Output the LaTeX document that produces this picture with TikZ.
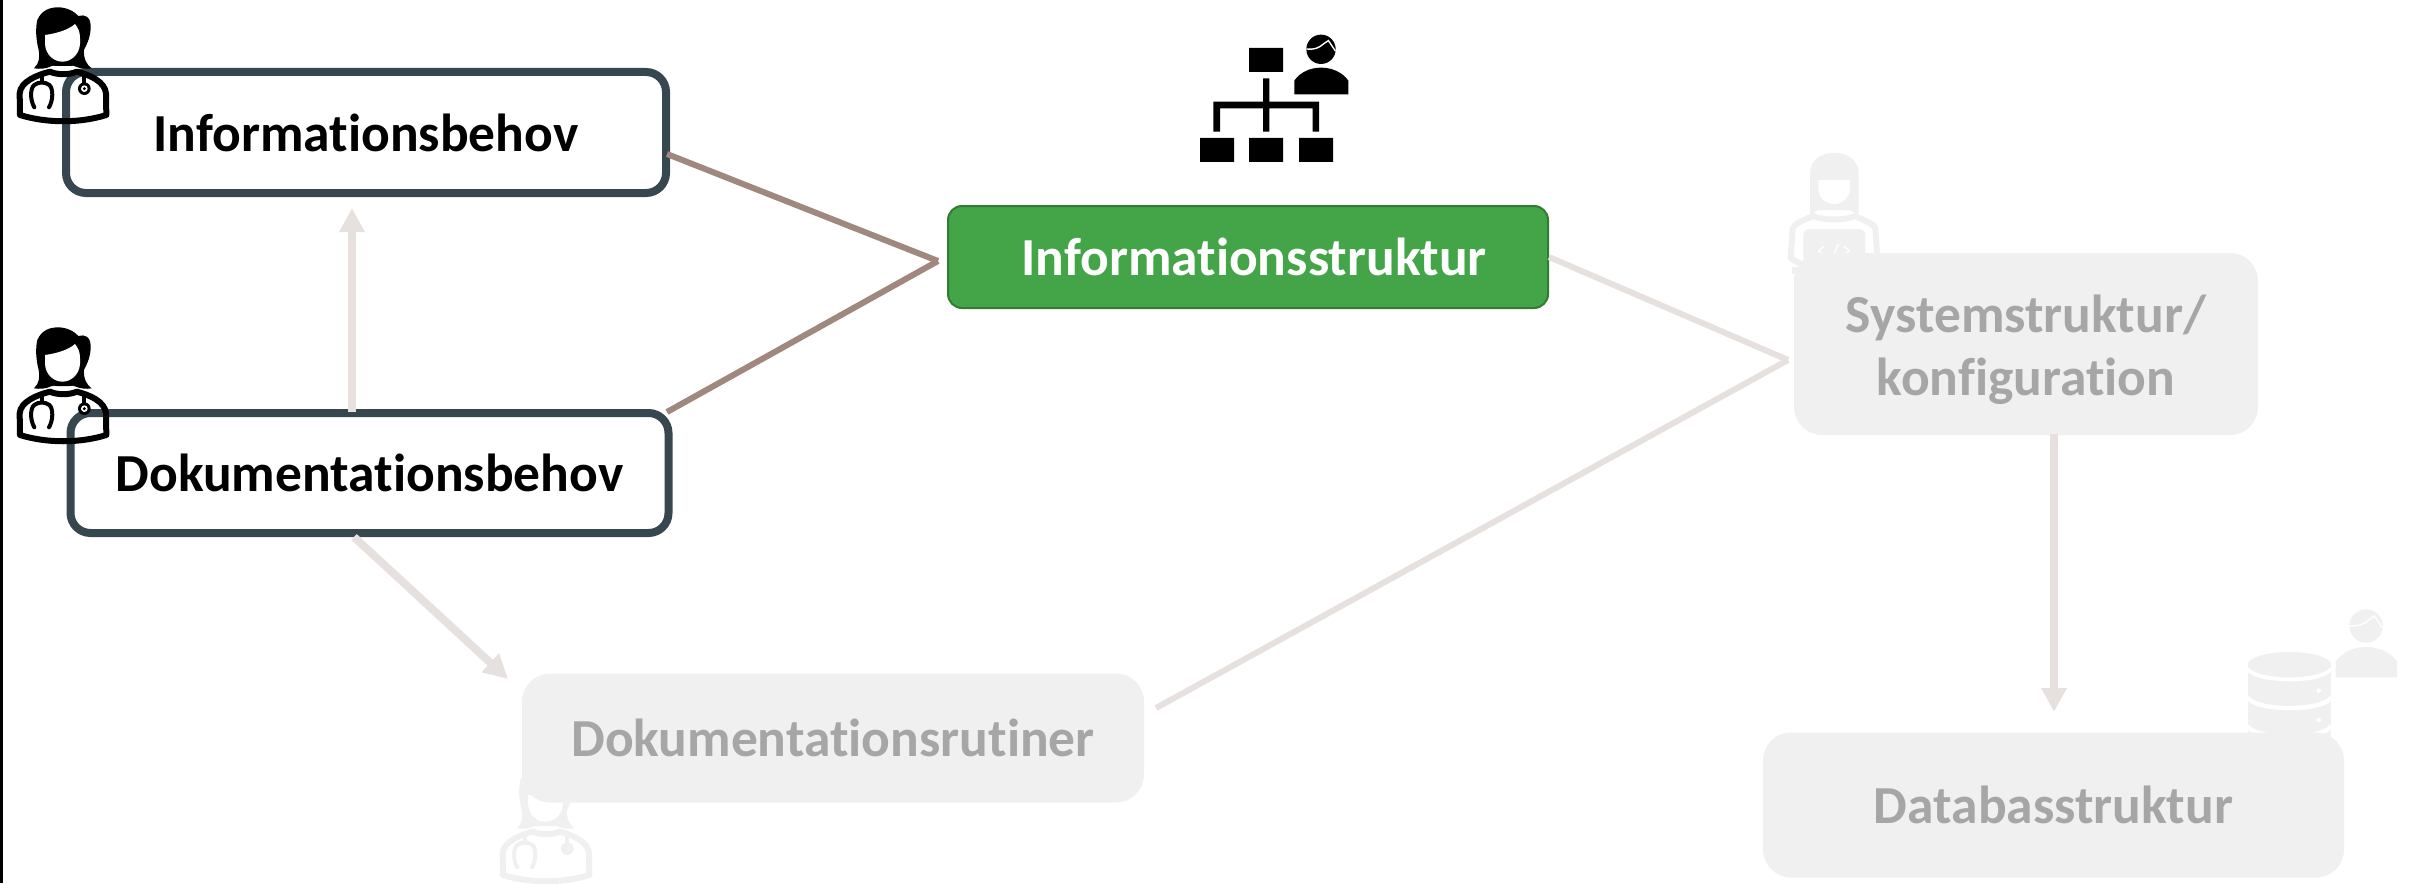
\documentclass[tikz,border=0pt]{standalone}
\usepackage{fontspec}
\setmainfont[Ligatures=NoCommon]{Carlito}
\usetikzlibrary{arrows.meta}
\definecolor{boxline}{HTML}{37474F}
\definecolor{greenfill}{HTML}{43A547}
\definecolor{greenline}{HTML}{2E7D32}
\definecolor{linkdark}{HTML}{A1887F}
\definecolor{linklight}{HTML}{E6E1DF}
\definecolor{faded}{HTML}{F0F0F0}
\definecolor{fadedtext}{HTML}{A6A6A6}
\newcommand\doctoricon[4]{%
\begin{scope}[shift={(#1,#2)},scale=1/3]
\fill[#3] (102,205) .. controls (118,190) and (120,170) .. (116,150) .. controls (108,120) and (106,85) .. (112,60)
 .. controls (125,30) and (150,22) .. (175,22) .. controls (200,22) and (225,35) .. (235,48)
 .. controls (255,42) and (272,50) .. (272,80) .. controls (272,110) and (262,130) .. (252,150)
 .. controls (250,175) and (260,195) .. (275,205) .. controls (260,208) and (240,206) .. (222,198)
 -- (155,198) .. controls (140,206) and (120,208) .. (102,205) -- cycle;
\fill[white] (135,105) .. controls (170,100) and (205,90) .. (225,72) .. controls (235,85) and (240,95) .. (240,115)
 -- (240,132) .. controls (238,165) and (212,185) .. (187,185) .. controls (162,185) and (137,165) .. (135,132) -- cycle;
\fill[white] (160,197) .. controls (180,204) and (200,204) .. (220,197) -- (216,212) .. controls (200,216) and (180,216) .. (164,212) -- cycle;
\draw[#3,line width=3pt,line join=round] (60,345) -- (59,280) .. controls (62,245) and (110,225) .. (150,215)
 .. controls (170,225) and (210,225) .. (230,215) .. controls (270,225) and (315,245) .. (318,280) -- (319,345)
 .. controls (240,370) and (140,370) .. (60,345) -- cycle;
\draw[#3,line width=2pt,line cap=round] (103,322) .. controls (90,300) and (90,265) .. (103,255) .. controls (115,245) and (135,245) .. (148,255)
 .. controls (160,265) and (160,300) .. (147,322);
\draw[#3,line width=2pt] (125,225) -- (125,248);
\draw[#3,line width=2pt] (253,225) -- (253,255);
\fill[#3] (253,266) circle (19);
\fill[#4] (253,266) circle (10);
\fill[#3] (253,266) circle (5);
\end{scope}}
\newcommand\personicon[4]{%
\begin{scope}[shift={(#1,#2)},scale=#3/3]
\fill[#4] (0,0) circle (44);
\draw[white,line width=0.7pt] (-44,-1) .. controls (-5,4) and (5,-18) .. (22,-26) .. controls (30,-15) and (36,-5) .. (43,5);
\fill[#4] (-80,135) -- (-80,94) .. controls (-45,42) and (45,42) .. (82,94) -- (82,135) -- cycle;
\end{scope}}
\tikzset{
 x=0.5pt,y=-0.5pt,
 basebox/.style={rectangle,font=\fontsize{26.75}{31.5}\selectfont\bfseries,align=center,inner sep=0pt},
 outlinebox/.style={basebox,draw=boxline,line width=4pt,fill=white,rounded corners=10pt,text=black},
 greenbox/.style={basebox,draw=greenline,line width=1pt,fill=greenfill,rounded corners=7pt,text=white},
 fadedbox/.style={basebox,fill=faded,rounded corners=14pt,text=fadedtext},
 darklink/.style={draw=linkdark,line width=3pt},
 lightlink/.style={draw=linklight,line width=3pt},
 lightarrow/.style={draw=linklight,line width=4pt,-{Triangle[length=12pt,width=12pt]}},
}
\begin{document}
\begin{tikzpicture}
\useasboundingbox (0,0) rectangle (2412,883);
\fill[black] (0,0) rectangle (2.5,883);
% faded icons below their boxes
\doctoricon{483}{760}{faded}{faded}
\begin{scope}[shift={(1760,130)},scale=1/3]
\fill[faded] (150,255) -- (150,130) .. controls (150,90) and (185,68) .. (222,68) .. controls (260,68) and (296,90) .. (296,130) -- (296,255) -- (270,240) -- (175,240) -- cycle;
\fill[white] (175,150) -- (270,150) -- (270,178) .. controls (268,205) and (245,222) .. (222,222) .. controls (198,222) and (177,205) .. (175,178) -- cycle;
\fill[white] (195,240) .. controls (210,245) and (235,245) .. (250,240) -- (246,253) -- (199,253) -- cycle;
\draw[faded,line width=3pt,line join=round,line cap=round] (118,400) -- (92,385) -- (98,295) .. controls (105,280) and (130,270) .. (160,258) .. controls (190,272) and (255,272) .. (285,258) .. controls (310,270) and (340,280) .. (346,295) -- (352,385);
\fill[faded,rounded corners=3pt] (130,297) rectangle (316,400);
\fill[faded] (96,412) rectangle (130,432);
\draw[white,line width=0.6pt] (193,348) -- (176,363) -- (190,372) (235,342) -- (222,370) (250,348) -- (268,362) -- (255,372);
\end{scope}
\begin{scope}[shift={(2200,590)},scale=1/3]
\fill[faded] (143,225) -- (143,470) -- (393,470) -- (393,225) -- cycle;
\draw[white,line width=2.2pt] (143,235) .. controls (165,278) and (371,278) .. (393,235);
\draw[white,line width=2.2pt] (143,322) .. controls (165,365) and (371,365) .. (393,322);
\draw[white,line width=2.2pt] (143,408) .. controls (165,451) and (371,451) .. (393,408);
\fill[faded] (268,224) ellipse (125 and 38);
\fill[white] (356,302) circle (7) (356,390) circle (7);
\end{scope}
\personicon{2366}{626}{1.14}{faded}
% boxes
\node[outlinebox,minimum width=300pt,minimum height=60.5pt] (infobehov) at (366,132.5) {Informationsbehov};
\node[outlinebox,minimum width=299pt,minimum height=60pt] (dokbehov) at (369.5,473) {Dokumentationsbehov};
\node[greenbox,minimum width=300pt,minimum height=51pt] (infostruktur) at (1248,257) {\hspace*{6pt}Informationsstruktur};
\node[fadedbox,minimum width=232pt,minimum height=91pt] (systemstruktur) at (2026,344) {\rule{0pt}{25pt}Systemstruktur/\\konfiguration};
\node[fadedbox,minimum width=311pt,minimum height=64.5pt] (dokrutiner) at (833,738) {Dokumentationsrutiner};
\node[fadedbox,minimum width=290.5pt,minimum height=72.5pt] (databas) at (2053.5,805) {Databasstruktur};
% doctor icons over their boxes
\doctoricon{0}{0}{black}{white}
\doctoricon{0}{320}{black}{white}
% org chart icon
\begin{scope}[shift={(1160,10)},scale=1/3]
\fill[black] (267,114) rectangle (369,186) (120,384) rectangle (222,456) (267,384) rectangle (369,456) (417,384) rectangle (519,456);
\fill[black] (309,205) rectangle (328,365) (160,275) rectangle (477,295) (160,275) rectangle (180,365) (458,275) rectangle (477,365);
\end{scope}
\personicon{1321}{49.3}{1}{black}
% connector ends
\coordinate (jleft) at (938,261);
\coordinate (jright) at (1788,360);
\coordinate (infoout) at (667,154);
\coordinate (dokout) at (667,412);
\coordinate (rutinout) at (1156,708);
\coordinate (dokup) at (352,412);
\coordinate (infoin) at (352,208);
\coordinate (dokdown) at (354,537);
\coordinate (rutinin) at (508,679);
\coordinate (sysdown) at (2054,434);
\coordinate (dbin) at (2054,712);
% connectors
\draw[darklink] (infoout) -- (jleft);
\draw[darklink] (dokout) -- (jleft);
\draw[lightlink] (infostruktur.east) -- (jright);
\draw[lightlink] (rutinout) -- (jright);
\draw[lightarrow] (dokup) -- (infoin);
\draw[lightarrow] (dokdown) -- (rutinin);
\draw[lightarrow] (sysdown) -- (dbin);
\end{tikzpicture}
\end{document}
